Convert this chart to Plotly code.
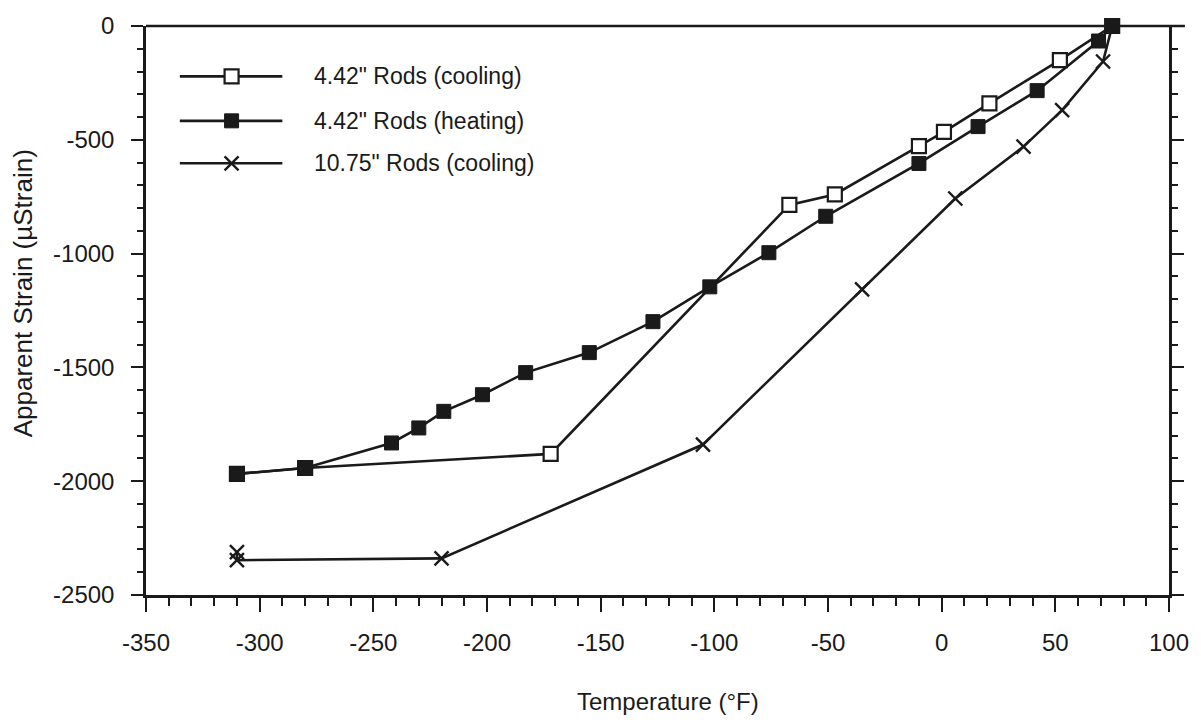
import plotly.graph_objects as go

# ---- data ----
cool442_T = [75, 52, 21, 1, -10, -47, -67, -172, -280, -310]
cool442_S = [0, -150, -340, -465, -528, -740, -786, -1880, -1942, -1968]

heat442_T = [-310, -280, -242, -230, -219, -202, -183, -155, -127, -102, -76, -51, -10, 16, 42, 69, 75]
heat442_S = [-1968, -1942, -1832, -1766, -1693, -1620, -1523, -1435, -1299, -1146, -996, -836, -604, -442, -284, -66, 0]

cool1075_T = [75, 71, 53, 36, 6, -35, -105, -220, -310, -310]
cool1075_S = [0, -156, -370, -530, -758, -1157, -1839, -2339, -2347, -2312]

series_names = ['4.42" Rods (cooling)', '4.42" Rods (heating)', '10.75" Rods (cooling)']

x_ticks = [-350, -300, -250, -200, -150, -100, -50, 0, 50, 100]
x_ticklabels = ["-350", "-300", "-250", "-200", "-150", "-100", "-50", "0", "50", "100"]
y_ticks = [0, -500, -1000, -1500, -2000, -2500]
y_ticklabels = ["0", "-500", "-1000", "-1500", "-2000", "-2500"]

INK = "#1a1a1a"
FONT = "Liberation Sans, Arial, Helvetica, sans-serif"

fig = go.Figure()

line_style = dict(color=INK, width=2.6)
m_open = dict(symbol="square", size=14, color="white", line=dict(color=INK, width=2.2))
m_fill = dict(symbol="square", size=14, color=INK, line=dict(color=INK, width=1))
m_x = dict(symbol="x-thin", size=14, color=INK, line=dict(color=INK, width=2.4))

fig.add_trace(go.Scatter(x=cool1075_T, y=cool1075_S, mode="lines+markers", name=series_names[2],
                         line=line_style, marker=m_x, cliponaxis=False, showlegend=False))
fig.add_trace(go.Scatter(x=cool442_T, y=cool442_S, mode="lines+markers", name=series_names[0],
                         line=line_style, marker=m_open, cliponaxis=False, showlegend=False))
fig.add_trace(go.Scatter(x=heat442_T, y=heat442_S, mode="lines+markers", name=series_names[1],
                         line=line_style, marker=m_fill, cliponaxis=False, showlegend=False))

# ---- custom legend drawn on a hidden overlay axis (pixel-like coordinates) ----
L, R, T, B = 146, 1174, 19, 595
leg_rows = [70, 115, 158]
leg_markers = [m_open, m_fill, m_x]
for yy, mk, nm in zip(leg_rows, leg_markers, series_names):
    fig.add_trace(go.Scatter(x=[180, 283], y=[yy, yy], mode="lines", line=line_style,
                             xaxis="x2", yaxis="y2", showlegend=False, hoverinfo="skip"))
    fig.add_trace(go.Scatter(x=[232], y=[yy], mode="markers", marker=mk,
                             xaxis="x2", yaxis="y2", showlegend=False, hoverinfo="skip"))
    fig.add_annotation(x=313, y=yy, xref="x2", yref="y2", text=nm, showarrow=False,
                       xanchor="left", yanchor="middle",
                       font=dict(family=FONT, size=23, color=INK))

axis_common = dict(showgrid=False, zeroline=False, showline=True, linecolor=INK, linewidth=2.5,
                   ticks="outside", tickcolor=INK, tickwidth=2.2,
                   tickfont=dict(family=FONT, size=24, color=INK))

fig.update_layout(
    width=1201, height=722,
    margin=dict(l=L, r=1201 - R, t=T, b=722 - B),
    paper_bgcolor="white", plot_bgcolor="white",
    showlegend=False,
    xaxis=dict(range=[-350, 100], tickvals=x_ticks, ticktext=x_ticklabels, ticklen=14, mirror=False,
               ticklabelstandoff=10,
               minor=dict(dtick=10, ticklen=8, tickwidth=2, tickcolor=INK, ticks="outside"),
               **axis_common),
    yaxis=dict(range=[-2500, 0], tickvals=y_ticks, ticktext=y_ticklabels, ticklen=12, mirror="ticks",
               ticklabelstandoff=12,
               minor=dict(dtick=100, ticklen=6, tickwidth=2, tickcolor=INK, ticks="outside"),
               **axis_common),
    xaxis2=dict(overlaying="x", range=[L, R], visible=False, fixedrange=True),
    yaxis2=dict(overlaying="y", range=[B, T], visible=False, fixedrange=True),
)

# top zero line extending slightly beyond the right frame
fig.add_shape(type="line", xref="paper", yref="paper", x0=0, x1=(1190 - L) / (R - L), y0=1, y1=1,
              line=dict(color=INK, width=2.5))

# axis titles
fig.add_annotation(xref="paper", yref="paper", x=(671 - L) / (R - L), y=(B - 703) / (B - T),
                   text="Temperature (°F)", showarrow=False, xanchor="center", yanchor="middle",
                   font=dict(family=FONT, size=24, color=INK))
fig.add_annotation(xref="paper", yref="paper", x=(22 - L) / (R - L), y=(B - 290) / (B - T),
                   text="Apparent Strain (µStrain)", showarrow=False, textangle=-90,
                   xanchor="center", yanchor="middle",
                   font=dict(family=FONT, size=26, color=INK))

fig.write_html("out.html")
